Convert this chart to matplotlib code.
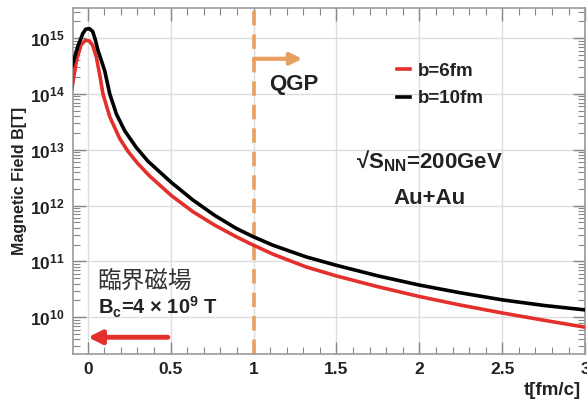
import matplotlib
matplotlib.use("Agg")
import matplotlib.pyplot as plt
import numpy as np
from matplotlib.ticker import LogLocator, MultipleLocator, FixedLocator, NullFormatter

plt.rcParams['font.family'] = ['Liberation Sans', 'Noto Sans CJK JP', 'DejaVu Sans']
plt.rcParams['mathtext.fontset'] = 'custom'
plt.rcParams['mathtext.rm'] = 'Liberation Sans:bold'
plt.rcParams['mathtext.bf'] = 'Liberation Sans:bold'
plt.rcParams['mathtext.it'] = 'Liberation Sans:bold'
plt.rcParams['mathtext.default'] = 'bf'

# Data (log10 of B in Tesla)
t_b6 = [-0.096, -0.066, -0.04, -0.015, 0.01, 0.03, 0.052, 0.072, 0.092, 0.133, 0.193, 0.243,
        0.303, 0.373, 0.504, 0.634, 0.765, 0.896, 0.992, 1.116, 1.317, 1.498, 1.75, 2.0,
        2.25, 2.5, 2.75, 3.0]
logB_b6 = [14.09, 14.62, 14.88, 14.96, 14.95, 14.87, 14.66, 14.35, 14.0, 13.59, 13.20, 12.97,
           12.75, 12.53, 12.18, 11.89, 11.65, 11.44, 11.30, 11.13, 10.90, 10.74, 10.545, 10.37,
           10.215, 10.075, 9.945, 9.82]
t_b10 = [-0.096, -0.06, -0.03, -0.012, 0.01, 0.03, 0.045, 0.062, 0.102, 0.133, 0.173, 0.223,
         0.293, 0.363, 0.504, 0.634, 0.765, 0.896, 0.992, 1.116, 1.317, 1.498, 1.75, 2.0,
         2.25, 2.5, 2.75, 3.0]
logB_b10 = [14.48, 14.85, 15.08, 15.16, 15.17, 15.12, 14.98, 14.78, 14.42, 14.0, 13.64, 13.34,
            13.04, 12.795, 12.414, 12.10, 11.825, 11.59, 11.45, 11.29, 11.08, 10.93, 10.74, 10.575,
            10.435, 10.31, 10.21, 10.13]

xticks = [0, 0.5, 1, 1.5, 2, 2.5, 3]
xticklabels = ['0', '0.5', '1', '1.5', '2', '2.5', '3']

fig = plt.figure(figsize=(5.87, 4.0), dpi=100)
ax = fig.add_axes([0.124, 0.115, 0.873, 0.865])

ax.plot(t_b6, 10 ** np.array(logB_b6), color='#e3302c', lw=2.6, label='b=6fm', zorder=3)
ax.plot(t_b10, 10 ** np.array(logB_b10), color='black', lw=2.6, label='b=10fm', zorder=3)

ax.set_yscale('log')
ax.set_xlim(-0.09, 3.0)
ax.set_ylim(10 ** 9.34, 10 ** 15.54)

ax.xaxis.set_major_locator(FixedLocator(xticks))
ax.set_xticklabels(xticklabels)
ax.xaxis.set_minor_locator(MultipleLocator(0.1))
ax.yaxis.set_major_locator(LogLocator(base=10, numticks=20))
ax.yaxis.set_minor_locator(LogLocator(base=10, subs=np.arange(2, 10), numticks=20))
ax.yaxis.set_minor_formatter(NullFormatter())

ax.tick_params(which='both', direction='in', top=True, right=True, color='#888888')
ax.tick_params(which='major', length=9, width=1)
ax.tick_params(which='minor', length=5, width=0.8)
ax.tick_params(axis='both', labelsize=12.5, pad=6)
for lbl in ax.get_xticklabels() + ax.get_yticklabels():
    lbl.set_fontweight('bold')
    lbl.set_color('#222222')

ax.grid(True, which='major', color='#dddddd', lw=1)
for s in ax.spines.values():
    s.set_color('#999999')
    s.set_linewidth(1.2)

ax.set_ylabel('Magnetic Field B[T]', fontsize=11.5, fontweight='bold', color='#222222', labelpad=2)
fig.text(0.99, 0.024, 't[fm/c]', ha='right', va='center',
         fontsize=13.5, fontweight='bold', color='#222222')

# QGP boundary
ax.axvline(1.0, color='#e8a060', lw=2.6, ls=(0, (4, 2.5)), zorder=2)
ax.annotate('', xy=(1.31, 10 ** 14.63), xytext=(0.985, 10 ** 14.63),
            arrowprops=dict(arrowstyle='-|>,head_length=0.7,head_width=0.35', color='#e8a060', lw=3))
ax.text(1.096, 10 ** 14.17, 'QGP', fontsize=16, fontweight='bold', ha='left', va='center', color='#222222')

# legend
leg = ax.legend(loc='upper left', bbox_to_anchor=(0.60, 0.89), frameon=False, fontsize=13.5,
                handlelength=0.7, handletextpad=0.4, labelspacing=0.55)
for txt in leg.get_texts():
    txt.set_fontweight('bold')
    txt.set_color('#222222')

ax.text(2.06, 10 ** 12.80, '√S$_{NN}$=200GeV', fontsize=16, fontweight='bold',
        ha='center', va='center', color='#222222')
ax.text(2.06, 10 ** 12.12, 'Au+Au', fontsize=16, fontweight='bold', ha='center', va='center', color='#222222')

# critical field
ax.text(0.06, 10 ** 10.65, '臨界磁場', fontsize=17, ha='left', va='center', color='#333333',
        family=['Noto Sans CJK JP', 'DejaVu Sans'])
ax.text(0.06, 10 ** 10.17, 'B$_{c}$=4 × 10$^{9}$ T', fontsize=14.5, fontweight='bold',
        ha='left', va='center', color='#222222')
ax.annotate('', xy=(-0.015, 10 ** 9.64), xytext=(0.5, 10 ** 9.64),
            arrowprops=dict(arrowstyle='-|>,head_length=0.8,head_width=0.4', color='#e3302c', lw=3.5))

fig.savefig('out.png', dpi=100)
